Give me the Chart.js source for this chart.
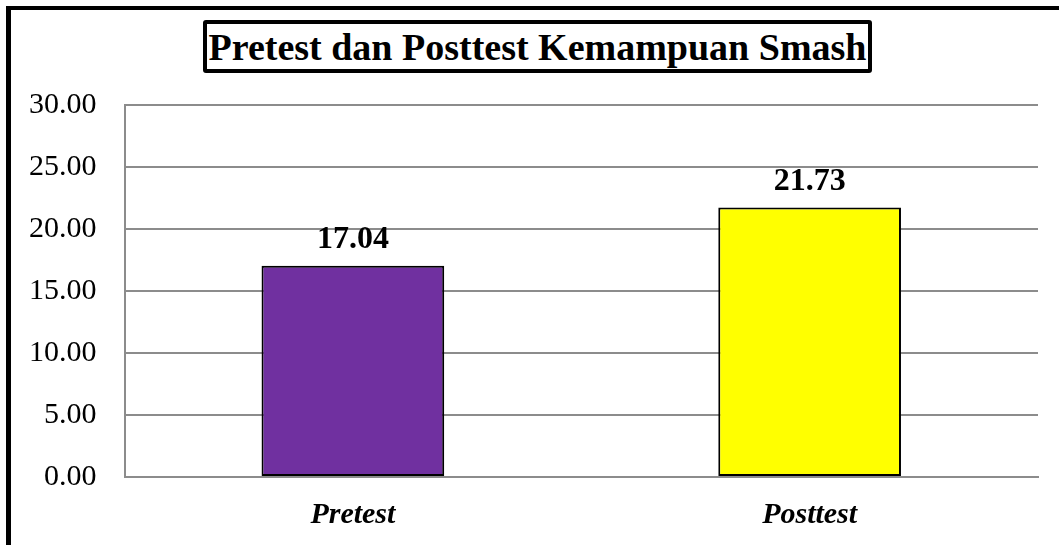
<!DOCTYPE html>
<html>
<head>
<meta charset="utf-8">
<script src="https://cdn.jsdelivr.net/npm/chart.js@4/dist/chart.umd.min.js"></script>
<style>
  html, body { margin: 0; padding: 0; background: #fff; overflow: hidden; }
  #frame {
    position: absolute; left: 6px; top: 6px; width: 2000px; height: 2000px;
    border-top: 4px solid #000; border-left: 5px solid #000;
  }
  #title {
    position: absolute; left: 203px; top: 20px; width: 661px; height: 45px;
    border: 4px solid #000; border-radius: 3px;
    font-family: 'Liberation Serif', 'Times New Roman', serif; font-weight: bold;
    font-size: 38px; line-height: 46px; text-align: center; white-space: nowrap;
    color: #000;
  }
  #wrap { position: absolute; left: 0; top: 0; width: 1059px; height: 545px; }
</style>
</head>
<body>
<div id="frame"></div>
<div id="title">Pretest dan Posttest Kemampuan Smash</div>
<div id="wrap"><canvas id="smashChart"></canvas></div>
<script>
const categories = ['Pretest', 'Posttest'];
const scores = [17.04, 21.73];
const barColors = ['#7030A0', '#FFFF00'];
const yTicks = [0, 5, 10, 15, 20, 25, 30];

const serif = "'Liberation Serif', 'Times New Roman', serif";

// values above the bars
const barValueLabels = {
  id: 'barValueLabels',
  afterDatasetsDraw(chart) {
    const ctx = chart.ctx;
    const meta = chart.getDatasetMeta(0);
    ctx.save();
    ctx.font = 'bold 32px ' + serif;
    ctx.fillStyle = '#000';
    ctx.textAlign = 'center';
    ctx.textBaseline = 'alphabetic';
    meta.data.forEach((bar, i) => {
      ctx.fillText(scores[i].toFixed(2), bar.x, bar.y - 18);
    });
    ctx.restore();
  }
};

new Chart(document.getElementById('smashChart'), {
  type: 'bar',
  data: {
    labels: categories,
    datasets: [{
      data: scores,
      backgroundColor: barColors,
      borderColor: '#000',
      borderWidth: 2,
      borderSkipped: false,
      barPercentage: 1,
      categoryPercentage: 0.4
    }]
  },
  options: {
    responsive: true,
    maintainAspectRatio: false,
    animation: false,
    layout: { padding: { top: 105, right: 21, left: 1, bottom: 0 } },
    plugins: {
      legend: { display: false },
      tooltip: { enabled: false }
    },
    scales: {
      x: {
        grid: { display: false },
        border: { color: '#8c8c8c', width: 2 },
        ticks: {
          color: '#000',
          padding: 12,
          font: { family: serif, size: 30, weight: 'bold', style: 'italic' }
        }
      },
      y: {
        min: 0,
        max: 30,
        afterBuildTicks(axis) {
          axis.ticks = yTicks.map((v) => ({ value: v }));
        },
        grid: { color: '#8c8c8c', lineWidth: 2, drawTicks: false },
        border: { color: '#8c8c8c', width: 2 },
        ticks: {
          color: '#000',
          padding: 28,
          font: { family: serif, size: 30 },
          callback: (v) => Number(v).toFixed(2)
        }
      }
    }
  },
  plugins: [barValueLabels]
});
</script>
</body>
</html>
